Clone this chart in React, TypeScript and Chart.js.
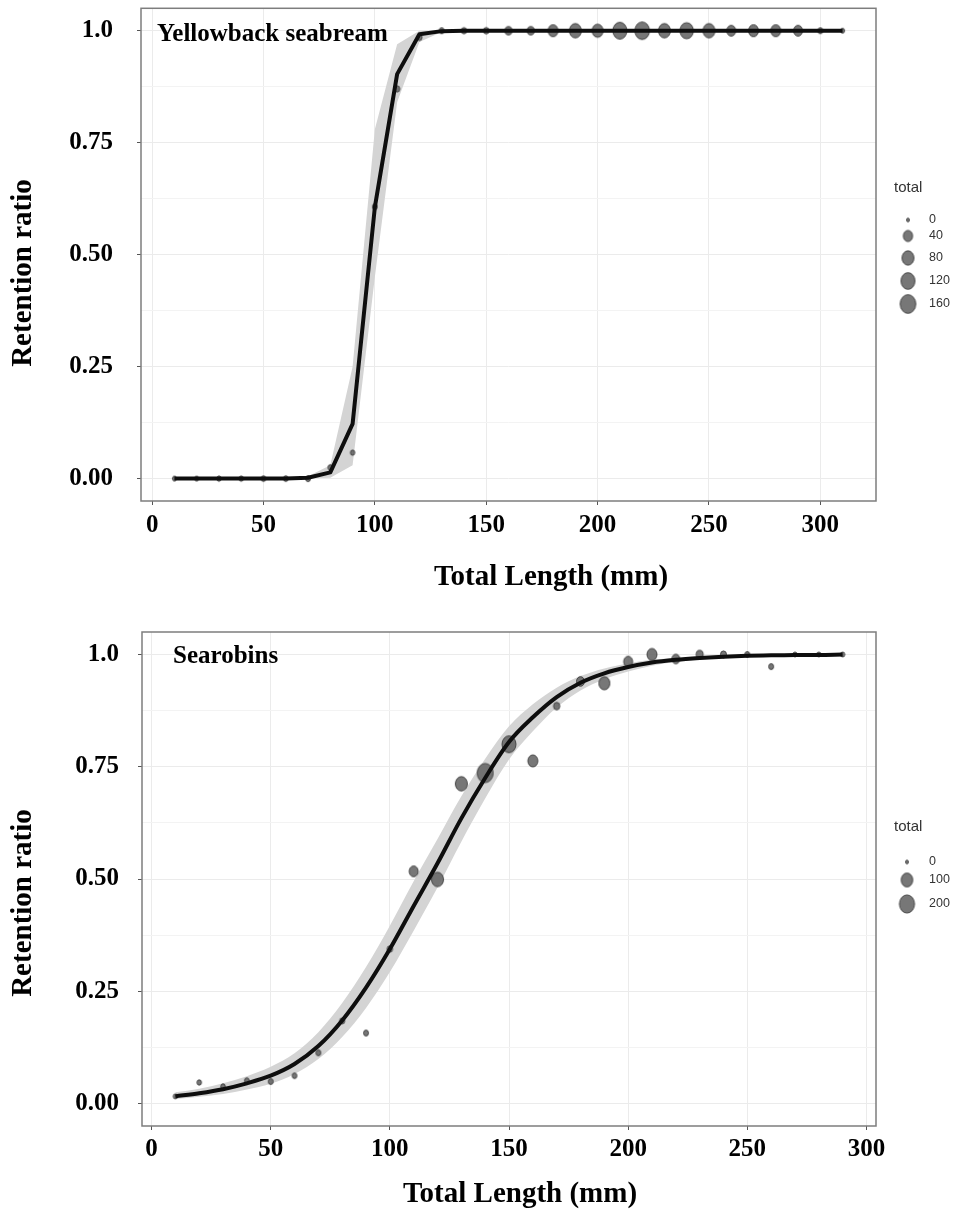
import React, { useEffect, useRef } from "react";
import { Chart, registerables } from "chart.js";

Chart.register(...registerables);

// ---------- Yellowback seabream ----------
const seabreamLength = [10, 20, 30, 40, 50, 60, 70, 80, 90, 100, 110, 120, 130, 140, 150, 160, 170, 180, 190, 200, 210, 220, 230, 240, 250, 260, 270, 280, 290, 300, 310];
const seabreamRetained = [0, 0, 0, 0, 0, 0, 0, 0.025, 0.058, 0.607, 0.87, 0.985, 1, 1, 1, 1, 1, 1, 1, 1, 1, 1, 1, 1, 1, 1, 1, 1, 1, 1, 1];
const seabreamTotal = [1, 1, 2, 2, 3, 3, 4, 3, 2, 4, 5, 5, 4, 5, 6, 16, 16, 49, 81, 64, 122, 135, 81, 109, 81, 36, 49, 49, 36, 4, 1];
const seabreamFit = [0, 0, 0, 0, 0, 0, 0.002, 0.014, 0.122, 0.606, 0.903, 0.992, 0.999, 1, 1, 1, 1, 1, 1, 1, 1, 1, 1, 1, 1, 1, 1, 1, 1, 1, 1];
const seabreamLower = [0, 0, 0, 0, 0, 0, 0, 0.002, 0.03, 0.45, 0.84, 0.975, 0.997, 1, 1, 1, 1, 1, 1, 1, 1, 1, 1, 1, 1, 1, 1, 1, 1, 1, 1];
const seabreamUpper = [0, 0, 0, 0, 0, 0, 0.005, 0.03, 0.25, 0.78, 0.97, 1, 1, 1, 1, 1, 1, 1, 1, 1, 1, 1, 1, 1, 1, 1, 1, 1, 1, 1, 1];
const seabreamLegendTotals = [0, 40, 80, 120, 160];
const seabreamSizeMax = 170;

// ---------- Searobins ----------
const searobinLength = [10, 20, 30, 40, 50, 60, 70, 80, 90, 100, 110, 120, 130, 140, 150, 160, 170, 180, 190, 200, 210, 220, 230, 240, 250, 260, 270, 280, 290];
const searobinRetained = [0.016, 0.047, 0.038, 0.051, 0.049, 0.062, 0.113, 0.184, 0.157, 0.344, 0.517, 0.499, 0.712, 0.736, 0.8, 0.763, 0.885, 0.94, 0.936, 0.984, 1, 0.99, 1, 1, 1, 0.973, 1, 1, 1];
const searobinTotal = [2, 3, 3, 4, 5, 4, 5, 6, 5, 8, 49, 110, 110, 230, 165, 67, 15, 34, 87, 49, 67, 34, 22, 12, 5, 5, 2, 2, 2];
const searobinFit = [0.016, 0.023, 0.032, 0.045, 0.062, 0.088, 0.128, 0.185, 0.258, 0.344, 0.44, 0.535, 0.635, 0.725, 0.805, 0.86, 0.905, 0.937, 0.958, 0.972, 0.982, 0.988, 0.992, 0.995, 0.997, 0.998, 0.999, 0.999, 1];
const searobinLower = [0.01, 0.015, 0.021, 0.031, 0.044, 0.066, 0.099, 0.148, 0.213, 0.293, 0.385, 0.481, 0.583, 0.679, 0.766, 0.829, 0.882, 0.92, 0.945, 0.962, 0.975, 0.983, 0.988, 0.992, 0.995, 0.996, 0.998, 0.998, 0.999];
const searobinUpper = [0.025, 0.033, 0.045, 0.061, 0.082, 0.112, 0.159, 0.224, 0.304, 0.396, 0.495, 0.589, 0.684, 0.768, 0.84, 0.889, 0.926, 0.952, 0.969, 0.98, 0.988, 0.992, 0.995, 0.997, 0.998, 0.999, 1, 1, 1];
const searobinLegendTotals = [0, 100, 200];
const searobinSizeMax = 230;

// ---------- shared axes ----------
const yMajorTicks = [0, 0.25, 0.5, 0.75, 1];
const yTickLabels = ["0.00", "0.25", "0.50", "0.75", "1.0"];
const yMinorTicks = [0.125, 0.375, 0.625, 0.875];
const xTicks = [0, 50, 100, 150, 200, 250, 300];

const SERIF = '"Liberation Serif", "Times New Roman", serif';
const SANS = '"Liberation Sans", Arial, sans-serif';

// radius grows with the square root of the count (area scale)
function sizeRadius(total: number, max: number) {
  return 1.5 + 6.5 * Math.sqrt(Math.max(0, total) / max);
}

const imageCache = new Map<string, HTMLCanvasElement>();
function ellipseImage(rx: number): HTMLCanvasElement {
  const key = rx.toFixed(2);
  const hit = imageCache.get(key);
  if (hit) return hit;
  const ry = rx * 1.2;
  const c = document.createElement("canvas");
  const w = Math.ceil(rx * 2 + 3);
  const h = Math.ceil(ry * 2 + 3);
  c.width = w;
  c.height = h;
  const g = c.getContext("2d")!;
  g.beginPath();
  g.ellipse(w / 2, h / 2, rx, ry, 0, 0, Math.PI * 2);
  g.fillStyle = "rgba(100,100,100,0.88)";
  g.fill();
  g.lineWidth = 1;
  g.strokeStyle = "rgba(60,60,60,0.9)";
  g.stroke();
  imageCache.set(key, c);
  return c;
}

type Panel = {
  species: string;
  length: number[];
  retained: number[];
  total: number[];
  fit: number[];
  lower: number[];
  upper: number[];
  legendTotals: number[];
  sizeMax: number;
  smooth: boolean;
  xMin: number;
  xMax: number;
  height: number;
  padTop: number;
  padRight: number;
  axisLeft: number;
  plotBottom: number;
  xTickPad: number;
  yTickPad: number;
  speciesPos: [number, number];
  xTitlePos: [number, number];
  yTitlePos: [number, number];
  legendTitlePos: [number, number];
  legendKeyX: number;
  legendLabelX: number;
  legendRows: number[];
};

const panelDecor = {
  id: "panelDecor",
  afterDraw(chart: any, _args: any, opts: any) {
    const p: Panel = opts.panel;
    const { ctx, chartArea: a } = chart;
    ctx.save();
    // panel frame
    ctx.strokeStyle = "#7d7d7d";
    ctx.lineWidth = 1.5;
    ctx.strokeRect(a.left, a.top, a.right - a.left, a.bottom - a.top);

    // species label
    ctx.fillStyle = "#000";
    ctx.textBaseline = "middle";
    ctx.textAlign = "left";
    ctx.font = `bold 25px ${SERIF}`;
    ctx.fillText(p.species, p.speciesPos[0], p.speciesPos[1]);

    // axis titles
    ctx.font = `bold 29px ${SERIF}`;
    ctx.textAlign = "center";
    ctx.fillText("Total Length (mm)", p.xTitlePos[0], p.xTitlePos[1]);
    ctx.save();
    ctx.translate(p.yTitlePos[0], p.yTitlePos[1]);
    ctx.rotate(-Math.PI / 2);
    ctx.fillText("Retention ratio", 0, 0);
    ctx.restore();

    // size legend
    ctx.textAlign = "left";
    ctx.fillStyle = "#333";
    ctx.font = `15px ${SANS}`;
    ctx.fillText("total", p.legendTitlePos[0], p.legendTitlePos[1]);
    ctx.font = `12.5px ${SANS}`;
    p.legendTotals.forEach((t, i) => {
      const y = p.legendRows[i];
      const img = ellipseImage(sizeRadius(t, p.sizeMax));
      ctx.drawImage(img, p.legendKeyX - img.width / 2, y - img.height / 2);
      ctx.fillText(String(t), p.legendLabelX, y);
    });
    ctx.restore();
  },
};

function makeConfig(p: Panel): any {
  const pts = (ys: number[]) => p.length.map((x, i) => ({ x, y: ys[i] }));
  const images = p.total.map((t) => ellipseImage(sizeRadius(t, p.sizeMax)));
  const curve = p.smooth ? { cubicInterpolationMode: "monotone" } : { tension: 0 };
  const isMajor = (v: number) => yMajorTicks.some((m) => Math.abs(m - v) < 1e-9);
  return {
    type: "scatter",
    data: {
      datasets: [
        { type: "line", data: pts(p.upper), borderWidth: 0, pointRadius: 0, fill: "+1", backgroundColor: "#d4d4d4", order: 4, ...curve },
        { type: "line", data: pts(p.lower), borderWidth: 0, pointRadius: 0, fill: false, order: 4, ...curve },
        {
          type: "scatter",
          data: pts(p.retained),
          pointStyle: (c: any) => images[c.dataIndex],
          pointRadius: (c: any) => sizeRadius(p.total[c.dataIndex] ?? 0, p.sizeMax),
          order: 3,
        },
        { type: "line", data: pts(p.fit), borderColor: "#0e0e0e", borderWidth: 4, pointRadius: 0, fill: false, order: 1, borderJoinStyle: "round", ...curve },
      ],
    },
    options: {
      responsive: false,
      animation: false,
      events: [],
      layout: { padding: { top: p.padTop, right: p.padRight, bottom: 0, left: 0 } },
      plugins: { legend: { display: false }, tooltip: { enabled: false }, panelDecor: { panel: p } },
      scales: {
        x: {
          type: "linear",
          min: p.xMin,
          max: p.xMax,
          afterBuildTicks: (s: any) => {
            s.ticks = xTicks.map((v) => ({ value: v }));
          },
          afterFit: (s: any) => {
            s.height = p.height - p.plotBottom;
            s.paddingLeft = 0;
            s.paddingRight = 0;
          },
          border: { display: false },
          grid: { color: "#ebebeb", lineWidth: 1, tickLength: 4, tickColor: "#555" },
          ticks: {
            autoSkip: false,
            maxRotation: 0,
            padding: p.xTickPad,
            color: "#000",
            font: { family: SERIF, size: 25, weight: "bold" },
            callback: (v: number) => String(v),
          },
        },
        y: {
          type: "linear",
          min: -0.05,
          max: 1.05,
          afterBuildTicks: (s: any) => {
            s.ticks = [...yMajorTicks, ...yMinorTicks].sort((a, b) => a - b).map((v) => ({ value: v }));
          },
          afterFit: (s: any) => {
            s.width = p.axisLeft;
            s.paddingTop = 0;
            s.paddingBottom = 0;
          },
          border: { display: false },
          grid: {
            color: (c: any) => (isMajor(c.tick?.value) ? "#ebebeb" : "#f3f3f3"),
            lineWidth: 1,
            tickLength: 4,
            tickColor: (c: any) => (isMajor(c.tick?.value) ? "#555" : "rgba(0,0,0,0)"),
          },
          ticks: {
            autoSkip: false,
            padding: p.yTickPad,
            color: "#000",
            font: { family: SERIF, size: 25, weight: "bold" },
            callback: (v: number) => {
              const i = yMajorTicks.findIndex((m) => Math.abs(m - v) < 1e-9);
              return i >= 0 ? yTickLabels[i] : "";
            },
          },
        },
      },
    },
    plugins: [panelDecor],
  };
}

const seabreamPanel: Panel = {
  species: "Yellowback seabream",
  length: seabreamLength,
  retained: seabreamRetained,
  total: seabreamTotal,
  fit: seabreamFit,
  lower: seabreamLower,
  upper: seabreamUpper,
  legendTotals: seabreamLegendTotals,
  sizeMax: seabreamSizeMax,
  smooth: false,
  xMin: -5,
  xMax: 325,
  height: 610,
  padTop: 7,
  padRight: 79,
  axisLeft: 141,
  plotBottom: 501,
  xTickPad: 6,
  yTickPad: 24,
  speciesPos: [157, 35],
  xTitlePos: [551, 578],
  yTitlePos: [24, 273],
  legendTitlePos: [894, 188],
  legendKeyX: 908,
  legendLabelX: 929,
  legendRows: [220, 236, 258, 281, 304],
};

const searobinPanel: Panel = {
  species: "Searobins",
  length: searobinLength,
  retained: searobinRetained,
  total: searobinTotal,
  fit: searobinFit,
  lower: searobinLower,
  upper: searobinUpper,
  legendTotals: searobinLegendTotals,
  sizeMax: searobinSizeMax,
  smooth: true,
  xMin: -4,
  xMax: 304,
  height: 611,
  padTop: 22,
  padRight: 79,
  axisLeft: 142,
  plotBottom: 516,
  xTickPad: 5,
  yTickPad: 19,
  speciesPos: [173, 47],
  xTitlePos: [520, 585],
  yTitlePos: [24, 293],
  legendTitlePos: [894, 217],
  legendKeyX: 907,
  legendLabelX: 929,
  legendRows: [252, 270, 294],
};

function PanelChart({ panel }: { panel: Panel }) {
  const ref = useRef<HTMLCanvasElement | null>(null);
  useEffect(() => {
    if (!ref.current) return;
    const chart = new Chart(ref.current, makeConfig(panel));
    return () => chart.destroy();
  }, [panel]);
  return <canvas ref={ref} width={955} height={panel.height} style={{ display: "block", width: 955, height: panel.height }} />;
}

export default function App() {
  return (
    <div style={{ position: "absolute", left: 0, top: 0, width: 955, height: 1221, background: "#fff" }}>
      <PanelChart panel={seabreamPanel} />
      <PanelChart panel={searobinPanel} />
    </div>
  );
}
